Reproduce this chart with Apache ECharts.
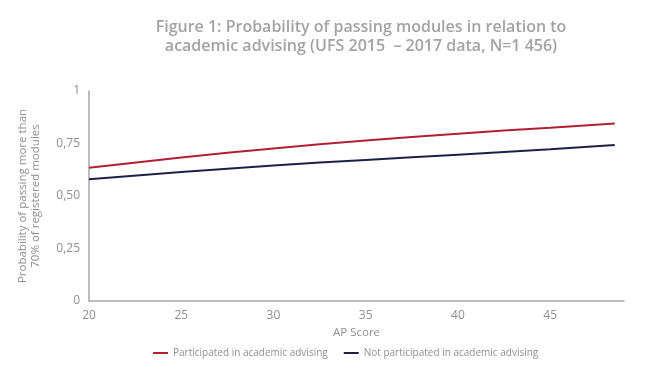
<!DOCTYPE html>
<html><head><meta charset="utf-8">
<script src="https://cdn.jsdelivr.net/npm/echarts@6/dist/echarts.min.js"></script>
<style>html,body{margin:0;padding:0;background:#fff}#c{width:645px;height:373px}</style>
</head><body><div id="c"></div>
<script>
const apScores = [20, 25, 30, 35, 40, 45, 48.5];
const participated = [0.635, 0.683, 0.726, 0.764, 0.797, 0.825, 0.845];
const notParticipated = [0.58, 0.614, 0.645, 0.672, 0.697, 0.723, 0.743];
const seriesNames = ['Participated in academic advising', 'Not participated in academic advising'];
const titleText = 'Figure 1: Probability of passing modules in relation to\nacademic advising (UFS 2015  – 2017 data, N=1 456)';

const chart = echarts.init(document.getElementById('c'));
const grey = '#8f8f8f';
const font = '"Open Sans", "Noto Sans", sans-serif';
chart.setOption({
  animation: false,
  title: {
    text: titleText, left: 356, top: 13, textAlign: 'center',
    textStyle: { color: '#a3a3a3', fontSize: 16, fontWeight: 600, fontFamily: font, lineHeight: 19 }
  },
  legend: {
    bottom: 10, left: 148, itemWidth: 15, itemHeight: 2, itemGap: 16,
    icon: 'rect',
    textStyle: { color: grey, fontSize: 10, fontFamily: font },
    data: seriesNames
  },
  grid: { left: 89, right: 21, top: 91, bottom: 72 },
  xAxis: {
    type: 'value', min: 20, max: 49, interval: 5,
    name: 'AP Score', nameLocation: 'middle', nameGap: 23,
    nameTextStyle: { color: grey, fontSize: 11.5, fontFamily: font },
    axisLine: { lineStyle: { color: '#a6a6a6', width: 1.5 } },
    axisTick: { show: false }, splitLine: { show: false },
    axisLabel: { color: grey, fontSize: 12, fontFamily: font, margin: 9, showMaxLabel: false }
  },
  yAxis: {
    type: 'value', min: 0, max: 1, interval: 0.25,
    name: 'Probability of passing more than\n70% of registered modules',
    nameLocation: 'middle', nameGap: 47, nameRotate: 90,
    nameTextStyle: { color: grey, fontSize: 11.5, fontFamily: font, lineHeight: 13 },
    axisLine: { show: true, lineStyle: { color: '#a6a6a6', width: 1.5 } },
    axisTick: { show: false }, splitLine: { show: false },
    axisLabel: { color: grey, fontSize: 12, fontFamily: font, margin: 9,
      formatter: v => v === 0 ? '0' : v === 1 ? '1' : v.toFixed(2).replace('.', ',') }
  },
  series: [
    { name: seriesNames[0], type: 'line', showSymbol: false, smooth: true,
      data: apScores.map((x, i) => [x, participated[i]]),
      lineStyle: { color: '#b21f33', width: 2 }, itemStyle: { color: '#b21f33' } },
    { name: seriesNames[1], type: 'line', showSymbol: false, smooth: true,
      data: apScores.map((x, i) => [x, notParticipated[i]]),
      lineStyle: { color: '#1d2148', width: 2 }, itemStyle: { color: '#1d2148' } }
  ]
});
</script></body></html>
